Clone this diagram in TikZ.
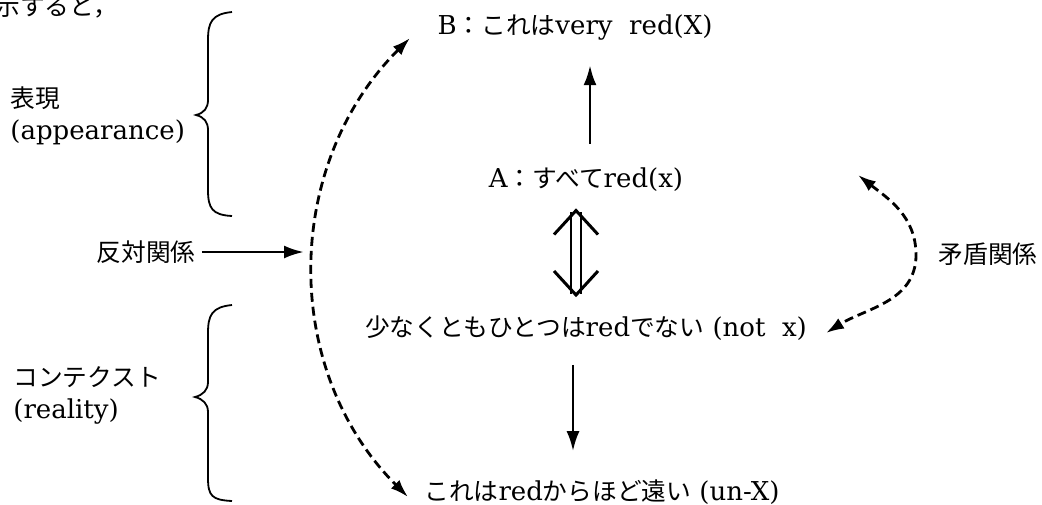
\documentclass[tikz,border=0pt]{standalone}
\usepackage{fontspec}
\setmainfont{DejaVu Serif}
\newfontfamily\jp[Scale=0.95]{Noto Sans CJK JP}
\usetikzlibrary{arrows.meta,positioning}
\tikzset{
  lbl/.style={inner sep=0pt, font=\fontsize{13}{16}\selectfont},
  solidarr/.style={line width=1.4pt, -{Latex[length=10pt,width=6.5pt]}},
  dasharr/.style={line width=1.4pt, dash pattern=on 4.5pt off 2.5pt,
                  {Latex[length=9pt,width=6pt]}-{Latex[length=9pt,width=6pt]}},
  eqarr/.style={double, double distance=4pt, line width=1.2pt,
                {Straight Barb[length=12pt,width=22pt,line width=1.5pt]}-{Straight Barb[length=12pt,width=22pt,line width=1.5pt]}},
  bracepath/.style={line width=0.9pt},
}
\begin{document}
\begin{tikzpicture}[x=0.5pt,y=0.5pt]
  \useasboundingbox (0,0) rectangle (1042,-504);
  % kopf (abgeschnitten)
  \node[lbl,anchor=west] (intro) at (-5,-7) {\jp 示すると，};
  % linke seite
  \node[lbl,anchor=west,align=left] (appear) at (10,-116) {{\jp 表現}\\(appearance)};
  \node[lbl,anchor=west,align=left] (context) at (13,-395) {{\jp コンテクスト}\\(reality)};
  \node[lbl] (hantai) at (146,-252) {\jp 反対関係};
  \node[lbl] (mujun) at (988,-254) {\jp 矛盾関係};
  % mitte
  \node[lbl] (nodeB) at (575,-28) {B{\jp ：これは}very\ \ red(X)};
  \node[lbl] (nodeA) at (586,-180) {A{\jp ：すべて}red(x)};
  \node[lbl] (nodeN) at (586,-328) {{\jp 少なくともひとつは}red{\jp でない} (not\ \ x)};
  \node[lbl] (nodeU) at (602,-492) {{\jp これは}red{\jp からほど遠い} (un-X)};
  % klammern
  \draw[bracepath] (232,-12) .. controls (212,-14) and (208,-22) .. (208,-40) -- (208,-100)
    .. controls (208,-108) and (204,-113) .. (196,-115) .. controls (204,-117) and (208,-122) .. (208,-130)
    -- (208,-190) .. controls (208,-208) and (212,-215) .. (232,-216);
  \draw[bracepath] (232,-305) .. controls (212,-307) and (208,-315) .. (208,-333) -- (208,-382)
    .. controls (208,-390) and (203,-395) .. (195,-397) .. controls (203,-399) and (208,-404) .. (208,-412)
    -- (208,-478) .. controls (208,-496) and (212,-500) .. (232,-501);
  % pfeile
  \coordinate (oppo) at (304,-252);
  \coordinate (oppotop) at (410,-38);
  \coordinate (oppobot) at (408,-497);
  \coordinate (contop) at (858,-175);
  \coordinate (conmid) at (916,-255);
  \coordinate (conbot) at (826,-333);
  \draw[solidarr, shorten <=12pt, shorten >=12pt] ([xshift=2pt]nodeA.north) -- ([xshift=2pt]nodeA.north |- nodeB.south);
  \draw[eqarr, shorten <=8pt, shorten >=9pt] ([xshift=-5pt]nodeA.south) -- ([xshift=-5pt]nodeA.south |- nodeN.north);
  \draw[solidarr, shorten <=12pt, shorten >=14pt] ([xshift=-6.5pt]nodeN.south) -- ([xshift=-6.5pt]nodeN.south |- nodeU.north);
  \draw[solidarr, shorten <=3pt] (hantai.east) -- (oppo);
  \draw[dasharr] (oppotop) to[out=225, in=135, looseness=1] (oppobot);
  \draw[dasharr] (contop) to[out=-38, in=90] (conmid) to[out=-90, in=32] (conbot);
\end{tikzpicture}
\end{document}
